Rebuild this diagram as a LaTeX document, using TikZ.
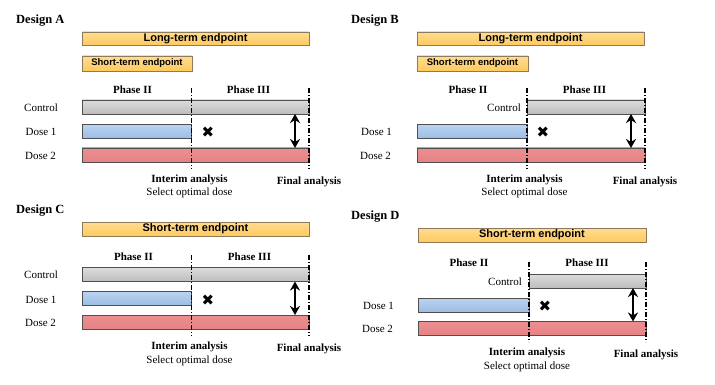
\documentclass[tikz,border=0pt]{standalone}
\usepackage{fontspec}
\setmainfont{Liberation Serif}
\newfontfamily\arialf{Liberation Sans}
\newfontfamily\djv{DejaVu Sans}
\usetikzlibrary{arrows.meta}
\definecolor{grayT}{HTML}{DCDCDC}
\definecolor{grayB}{HTML}{BDBDBD}
\definecolor{blueT}{HTML}{BAD3F1}
\definecolor{blueB}{HTML}{9CBDE6}
\definecolor{redT}{HTML}{EC8E90}
\definecolor{redB}{HTML}{E58385}
\definecolor{orT}{HTML}{FFDD91}
\definecolor{orB}{HTML}{FFC95E}
\definecolor{barline}{HTML}{505050}
\definecolor{endline}{HTML}{8C7A5A}
\tikzset{
  barbox/.style={draw=barline, line width=0.8pt, minimum height=14pt, inner sep=0pt, outer sep=0pt, anchor=north west},
  ctlbar/.style={barbox, top color=grayT, bottom color=grayB},
  d1bar/.style={barbox, top color=blueT, bottom color=blueB},
  d2bar/.style={barbox, top color=redT, bottom color=redB},
  endbox/.style={draw=endline, line width=0.8pt, top color=orT, bottom color=orB, inner sep=0pt, outer sep=0pt, anchor=north west, font=\arialf\bfseries\fontsize{11}{12}\selectfont},
  lbl/.style={font=\fontsize{11}{12}\selectfont, inner sep=0pt},
  blbl/.style={font=\bfseries\fontsize{11}{12}\selectfont, inner sep=0pt},
  title/.style={font=\bfseries\fontsize{12.5}{14}\selectfont, inner sep=0pt, anchor=west},
  dashdotline/.style={line width=1.2pt, dash pattern=on 5pt off 2pt on 1pt off 2pt},
  dblarrow/.style={line width=1.6pt, {Stealth[length=9pt,width=10pt]}-{Stealth[length=9pt,width=10pt]}},
  xmark/.style={font=\djv\fontsize{15}{16}\selectfont, inner sep=0pt},
}
\begin{document}
\begin{tikzpicture}[x=1pt,y=-1pt]
\useasboundingbox (0,0) rectangle (715,385);

% ===== Design A =====
\node[title] (tA) at (16,21) {Design A};
\node[endbox, minimum width=227pt, minimum height=13pt] (ltA) at (82,32) {Long-term endpoint};
\node[endbox, minimum width=110pt, minimum height=15pt, font=\arialf\bfseries\fontsize{9.5}{11}\selectfont] (stA) at (82,56) {Short-term endpoint};
\node[blbl] (p2A) at (132.5,90) {Phase II};
\node[blbl] (p3A) at (248.5,90) {Phase III};
\node[ctlbar, minimum width=227pt] (cA) at (82,100) {};
\node[d1bar, minimum width=109.5pt] (d1A) at (82,124.5) {};
\node[d2bar, minimum width=227pt] (d2A) at (82,148) {};
\node[lbl] (lcA) at (41,108) {Control};
\node[lbl] (l1A) at (41,132) {Dose 1};
\node[lbl] (l2A) at (40.5,156) {Dose 2};
\coordinate (iAt) at (191.5,88);
\coordinate (iAb) at (191.5,169);
\coordinate (fAt) at (309,88);
\coordinate (fAb) at (309,169);
\draw[dashdotline] (iAt) -- (iAb);
\draw[dashdotline] (fAt) -- (fAb);
\node[xmark] (xA) at (208,132) {✖};
\coordinate (aAt) at (295,114);
\coordinate (aAb) at (295,148);
\draw[dblarrow] (aAt) -- (aAb);
\node[blbl] (iaA) at (189.5,180) {Interim analysis};
\node[lbl] (soA) at (189.5,193) {Select optimal dose};
\node[blbl] (faA) at (309,182) {Final analysis};

% ===== Design B =====
\node[title] (tB) at (351,21) {Design B};
\node[endbox, minimum width=227pt, minimum height=13pt] (ltB) at (417,32) {Long-term endpoint};
\node[endbox, minimum width=111pt, minimum height=15pt, font=\arialf\bfseries\fontsize{9.5}{11}\selectfont] (stB) at (417,56) {Short-term endpoint};
\node[blbl] (p2B) at (468,90) {Phase II};
\node[blbl] (p3B) at (584.5,90) {Phase III};
\node[ctlbar, minimum width=118pt] (cB) at (527,100) {};
\node[d1bar, minimum width=110pt] (d1B) at (417,124.5) {};
\node[d2bar, minimum width=228pt] (d2B) at (417,148) {};
\node[lbl] (lcB) at (504,108) {Control};
\node[lbl] (l1B) at (376.5,132) {Dose 1};
\node[lbl] (l2B) at (375.5,156) {Dose 2};
\coordinate (iBt) at (527,88);
\coordinate (iBb) at (527,169);
\coordinate (fBt) at (645,88);
\coordinate (fBb) at (645,169);
\draw[dashdotline] (iBt) -- (iBb);
\draw[dashdotline] (fBt) -- (fBb);
\node[xmark] (xB) at (543,132) {✖};
\coordinate (aBt) at (631,114);
\coordinate (aBb) at (631,148);
\draw[dblarrow] (aBt) -- (aBb);
\node[blbl] (iaB) at (524.5,180) {Interim analysis};
\node[lbl] (soB) at (524.5,193) {Select optimal dose};
\node[blbl] (faB) at (645,182) {Final analysis};

% ===== Design C =====
\node[title] (tC) at (16,211) {Design C};
\node[endbox, minimum width=227pt, minimum height=14pt] (stC) at (82,222) {Short-term endpoint};
\node[blbl] (p2C) at (133.5,257) {Phase II};
\node[blbl] (p3C) at (249.5,257) {Phase III};
\node[ctlbar, minimum width=227pt] (cC) at (82,267.5) {};
\node[d1bar, minimum width=109.5pt] (d1C) at (82,291.5) {};
\node[d2bar, minimum width=227pt] (d2C) at (82,315) {};
\node[lbl] (lcC) at (41,275) {Control};
\node[lbl] (l1C) at (41,300) {Dose 1};
\node[lbl] (l2C) at (40.5,323) {Dose 2};
\coordinate (iCt) at (191.5,255);
\coordinate (iCb) at (191.5,336);
\coordinate (fCt) at (309,255);
\coordinate (fCb) at (309,336);
\draw[dashdotline] (iCt) -- (iCb);
\draw[dashdotline] (fCt) -- (fCb);
\node[xmark] (xC) at (208,300) {✖};
\coordinate (aCt) at (295,281.5);
\coordinate (aCb) at (295,315);
\draw[dblarrow] (aCt) -- (aCb);
\node[blbl] (iaC) at (189.5,347) {Interim analysis};
\node[lbl] (soC) at (189.5,361) {Select optimal dose};
\node[blbl] (faC) at (309,349) {Final analysis};

% ===== Design D =====
\node[title] (tD) at (351,217) {Design D};
\node[endbox, minimum width=228pt, minimum height=14pt] (stD) at (418,228) {Short-term endpoint};
\node[blbl] (p2D) at (469,263) {Phase II};
\node[blbl] (p3D) at (587,263) {Phase III};
\node[ctlbar, minimum width=117pt] (cD) at (529,274) {};
\node[d1bar, minimum width=111pt] (d1D) at (418,298) {};
\node[d2bar, minimum width=228pt] (d2D) at (418,321.5) {};
\node[lbl] (lcD) at (505,282) {Control};
\node[lbl] (l1D) at (378.5,306) {Dose 1};
\node[lbl] (l2D) at (377.5,329) {Dose 2};
\coordinate (iDt) at (529,262);
\coordinate (iDb) at (529,342);
\coordinate (fDt) at (646,262);
\coordinate (fDb) at (646,342);
\draw[dashdotline] (iDt) -- (iDb);
\draw[dashdotline] (fDt) -- (fDb);
\node[xmark] (xD) at (545,306) {✖};
\coordinate (aDt) at (633,288);
\coordinate (aDb) at (633,321.5);
\draw[dblarrow] (aDt) -- (aDb);
\node[blbl] (iaD) at (527,353) {Interim analysis};
\node[lbl] (soD) at (527,367) {Select optimal dose};
\node[blbl] (faD) at (646,355) {Final analysis};
\end{tikzpicture}
\end{document}
